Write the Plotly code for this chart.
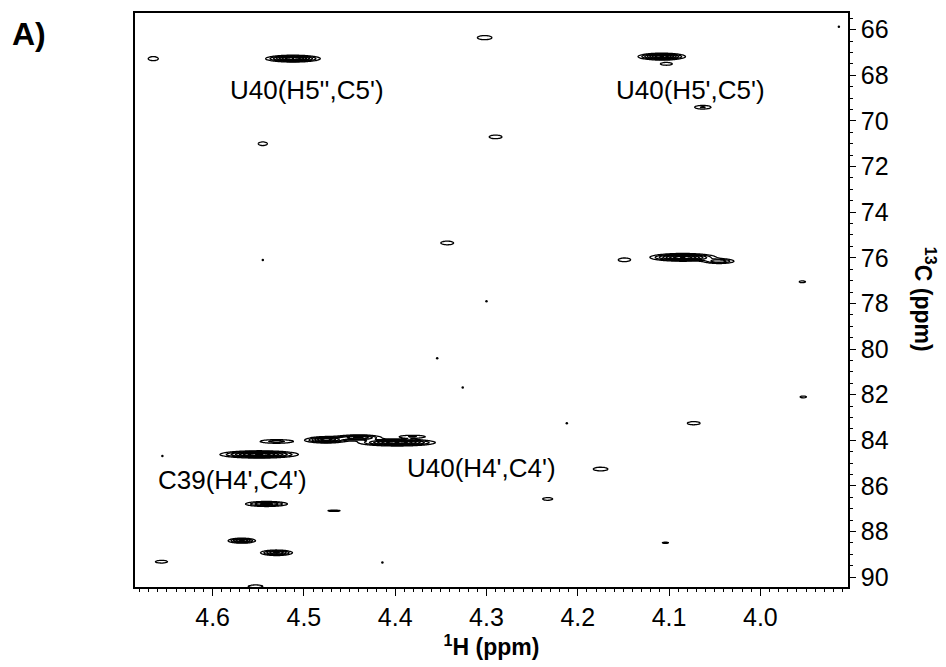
import numpy as np
import plotly.graph_objects as go

# ---- peak list (1H ppm, 13C ppm, outer half-width H, outer half-height C, relative height)
peak_H   = [4.665, 4.512, 4.302, 4.108, 4.103, 4.063, 4.545, 4.290, 4.343,
            4.149, 4.085, 4.045, 3.954, 3.953,
            4.530, 4.549, 4.476, 4.440, 4.398, 4.381,
            4.073, 4.175, 4.233, 4.541, 4.467, 4.568, 4.530, 4.656, 4.553, 4.104]
peak_C   = [67.27, 67.27, 66.35, 67.18, 67.50, 69.40, 71.00, 70.70, 75.35,
            76.09, 75.98, 76.15, 77.05, 82.10,
            84.05, 84.62, 83.98, 83.88, 84.10, 83.84,
            83.25, 85.26, 86.57, 86.79, 87.09, 88.40, 88.93, 89.32, 90.40, 88.49]
peak_wH  = [0.0055, 0.030, 0.008, 0.026, 0.0066, 0.009, 0.005, 0.007, 0.007,
            0.0066, 0.036, 0.016, 0.0035, 0.0035,
            0.018, 0.043, 0.022, 0.024, 0.042, 0.014,
            0.007, 0.008, 0.0055, 0.023, 0.007, 0.015, 0.0175, 0.0066, 0.008, 0.0035]
peak_wC  = [0.09, 0.15, 0.09, 0.15, 0.06, 0.08, 0.08, 0.08, 0.08,
            0.08, 0.17, 0.10, 0.04, 0.04,
            0.08, 0.16, 0.14, 0.12, 0.15, 0.06,
            0.07, 0.08, 0.06, 0.11, 0.03, 0.11, 0.12, 0.06, 0.06, 0.03]
peak_amp = [1.5, 6.0, 1.5, 6.0, 1.3, 1.8, 1.5, 1.5, 1.6,
            1.5, 6.0, 3.0, 1.2, 1.2,
            2.0, 6.0, 5.0, 4.0, 6.0, 1.8,
            1.6, 1.5, 1.5, 3.5, 1.2, 4.0, 4.0, 1.5, 1.5, 1.2]

# ---- tiny noise dots
dot_H = [3.914, 4.545, 4.300, 4.354, 4.326, 4.212, 4.655, 4.414]
dot_C = [65.87, 76.10, 77.90, 80.40, 81.68, 83.25, 84.69, 89.36]

# ---- assignments
label_text = ["U40(H5'',C5')", "U40(H5',C5')", "C39(H4',C4')", "U40(H4',C4')"]
label_H    = [4.497, 4.076, 4.578, 4.305]
label_C    = [68.66, 68.66, 85.74, 85.20]

# ---- axes
x_ticks = [4.6, 4.5, 4.4, 4.3, 4.2, 4.1, 4.0]
x_ticktext = ["4.6", "4.5", "4.4", "4.3", "4.2", "4.1", "4.0"]
y_ticks = [66, 68, 70, 72, 74, 76, 78, 80, 82, 84, 86, 88, 90]
y_ticktext = [str(v) for v in y_ticks]
x_range = [4.685, 3.904]
y_range = [90.43, 65.27]

# ---- build intensity surface from the peak list
h_axis = np.arange(3.895, 4.695, 0.0011)
c_axis = np.arange(65.1, 90.6, 0.028)
HH, CC = np.meshgrid(h_axis, c_axis)
Z = np.zeros_like(HH)
for h0, c0, wh, wc, a in zip(peak_H, peak_C, peak_wH, peak_wC, peak_amp):
    k = np.sqrt(2 * np.log(a))
    sh, sc = wh / k, wc / k
    Z += a * np.exp(-0.5 * ((HH - h0) / sh) ** 2 - 0.5 * ((CC - c0) / sc) ** 2)
Z = Z.astype(np.float32)

FONT = "Liberation Sans, Arial, sans-serif"

fig = go.Figure()
fig.add_trace(go.Contour(
    x=h_axis, y=c_axis, z=Z,
    contours=dict(start=1, end=12, size=0.7, coloring="lines", showlabels=False),
    colorscale=[[0, "black"], [1, "black"]],
    line=dict(width=1.3),
    showscale=False, hoverinfo="skip",
))
fig.add_trace(go.Scatter(
    x=dot_H, y=dot_C, mode="markers",
    marker=dict(size=2.5, color="black"), hoverinfo="skip", showlegend=False,
))

for t, h, c in zip(label_text, label_H, label_C):
    fig.add_annotation(x=h, y=c, text=t, showarrow=False,
                       font=dict(family=FONT, size=26, color="black"))

fig.add_annotation(xref="paper", yref="paper", x=-0.175, y=0.9635,
                   xanchor="left", yanchor="middle", showarrow=False,
                   text="<b>A)</b>", font=dict(family=FONT, size=32, color="black"))
fig.add_annotation(xref="paper", yref="paper", x=1.108, y=0.502,
                   xanchor="center", yanchor="middle", showarrow=False, textangle=90,
                   text="<b><sup>13</sup>C (ppm)</b>",
                   font=dict(family=FONT, size=23, color="black"))

fig.update_layout(
    width=946, height=667,
    margin=dict(l=135, r=98, t=11, b=80),
    paper_bgcolor="white", plot_bgcolor="white",
    showlegend=False,
    xaxis=dict(
        range=x_range, tickmode="array", tickvals=x_ticks, ticktext=x_ticktext,
        ticks="outside", ticklen=7, tickwidth=1.3, tickcolor="black",
        minor=dict(tickmode="linear", tick0=4.0, dtick=0.01, ticks="outside",
                   ticklen=3, tickwidth=1, tickcolor="black"),
        showline=True, mirror=True, linecolor="black", linewidth=1.5,
        showgrid=False, zeroline=False,
        tickfont=dict(family=FONT, size=25, color="black"),
        title=dict(text="<b><sup>1</sup>H (ppm)</b>", standoff=4,
                   font=dict(family=FONT, size=23, color="black")),
    ),
    yaxis=dict(
        range=y_range, side="right", tickmode="array", tickvals=y_ticks, ticktext=y_ticktext,
        ticks="outside", ticklen=6, tickwidth=1.3, tickcolor="black",
        minor=dict(tickmode="linear", tick0=66, dtick=0.5, ticks="outside",
                   ticklen=3, tickwidth=1, tickcolor="black"),
        showline=True, mirror=True, linecolor="black", linewidth=1.5,
        showgrid=False, zeroline=False,
        tickfont=dict(family=FONT, size=25, color="black"),
    ),
)

fig.write_html("out.html")
